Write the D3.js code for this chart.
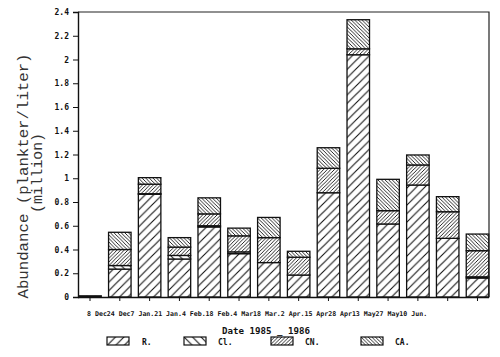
<!DOCTYPE html>
<html>
<head>
<meta charset="utf-8">
<script src="https://cdn.jsdelivr.net/npm/d3@7"></script>
<style>
  body { margin: 0; background: #fff; }
  svg { display: block; }
</style>
</head>
<body>
<svg width="500" height="357"></svg>
<script>
// sampling dates (tick labels, day first)
const dates = ["8 Dec", "24 Dec", "7 Jan.", "21 Jan.", "4 Feb.", "18 Feb.", "4 Mar",
  "18 Mar.", "2 Apr.", "15 Apr", "28 Apr", "13 May", "27 May", "10 Jun."];
// abundance in million plankter per liter, per group
const R  = [0.01, 0.235, 0.865, 0.32, 0.59, 0.365, 0.29, 0.185, 0.878, 2.04, 0.615, 0.943, 0.494, 0.16];
const Cl = [0, 0.03, 0.005, 0.03, 0.01, 0.015, 0, 0, 0, 0, 0, 0, 0, 0.01];
const CN = [0, 0.135, 0.08, 0.07, 0.10, 0.135, 0.21, 0.15, 0.206, 0.05, 0.112, 0.169, 0.224, 0.22];
const CA = [0, 0.145, 0.055, 0.08, 0.135, 0.065, 0.17, 0.05, 0.173, 0.245, 0.264, 0.084, 0.127, 0.14];
const keys = ["R", "Cl", "CN", "CA"];
const legendLabels = ["R.", "Cl.", "CN.", "CA."];
const yTicks = [0, 0.2, 0.4, 0.6, 0.8, 1, 1.2, 1.4, 1.6, 1.8, 2, 2.2, 2.4];

const rows = dates.map((d, i) => ({ date: d, R: R[i], Cl: Cl[i], CN: CN[i], CA: CA[i] }));
const series = d3.stack().keys(keys)(rows);

const svg = d3.select("svg");
const plotLeft = 78, plotRight = 489, plotTop = 12, plotBottom = 297;

const x = d3.scaleBand().domain(dates).range([75.1, 492.4]).paddingInner(0.245).paddingOuter(0.1225);
const y = d3.scaleLinear().domain([0, 2.4]).range([plotBottom, plotTop]);

// hatch patterns: "/" or "\" lines, spacing = tile size
const defs = svg.append("defs");
const hatch = [
  { id: "R", size: 8.5, dir: 1, w: 1.1 },
  { id: "Cl", size: 8.5, dir: -1, w: 1.1 },
  { id: "CN", size: 3.6, dir: 1, w: 0.9 },
  { id: "CA", size: 3.6, dir: -1, w: 0.9 }
];
hatch.forEach(h => {
  const s = h.size;
  const p = defs.append("pattern")
    .attr("id", "pat-" + h.id)
    .attr("patternUnits", "userSpaceOnUse")
    .attr("width", s).attr("height", s);
  p.append("rect").attr("width", s).attr("height", s).attr("fill", "#fff");
  const d = h.dir > 0
    ? `M0,${s} L${s},0 M-1,1 L1,-1 M${s - 1},${s + 1} L${s + 1},${s - 1}`
    : `M0,0 L${s},${s} M-1,${s - 1} L1,${s + 1} M${s - 1},-1 L${s + 1},1`;
  p.append("path").attr("d", d).attr("stroke", "#111").attr("stroke-width", h.w);
});

// bars
svg.append("g")
  .selectAll("g")
  .data(series)
  .join("g")
  .attr("fill", d => `url(#pat-${d.key})`)
  .selectAll("rect")
  .data(d => d.filter(v => v[1] - v[0] > 0))
  .join("rect")
  .attr("x", d => x(d.data.date))
  .attr("width", x.bandwidth())
  .attr("y", d => y(d[1]))
  .attr("height", d => y(d[0]) - y(d[1]))
  .attr("stroke", "#111")
  .attr("stroke-width", 1.3);

// frame
svg.append("path")
  .attr("d", `M${plotLeft},${plotTop} H${plotRight} V${plotBottom}`)
  .attr("fill", "none").attr("stroke", "#222").attr("stroke-width", 1.2);

// y axis
const yAxis = d3.axisLeft(y).tickValues(yTicks).tickSize(5).tickPadding(4)
  .tickFormat(d => String(+d.toFixed(1)));
svg.append("g")
  .attr("transform", `translate(${plotLeft},0)`)
  .call(yAxis)
  .call(g => g.select(".domain").attr("stroke", "#111").attr("stroke-width", 1.4))
  .call(g => g.selectAll(".tick line").attr("stroke", "#111"))
  .call(g => g.selectAll(".tick text")
    .attr("font-family", "DejaVu Sans Mono").attr("font-weight", "bold")
    .attr("font-size", 8).attr("fill", "#111"));

// x axis (ticks only; the date labels run together below, as in the original print)
svg.append("g")
  .attr("transform", `translate(0,${plotBottom})`)
  .call(d3.axisBottom(x).tickSize(4).tickFormat(""))
  .call(g => g.select(".domain").attr("d", `M${plotLeft},0.5H${plotRight}`).attr("stroke", "#111").attr("stroke-width", 1.6))
  .call(g => g.selectAll(".tick line").attr("stroke", "#111"));

const labelFont = 6.6;
const charW = 340 / dates.join("").length;
let cx = 87;
const labelPos = dates.map(d => { const p = cx; cx += d.length * charW; return p; });
svg.append("g")
  .attr("font-family", "DejaVu Sans Mono").attr("font-weight", "bold")
  .attr("font-size", labelFont).attr("fill", "#111")
  .selectAll("text")
  .data(dates)
  .join("text")
  .attr("x", (d, i) => labelPos[i]).attr("y", 316)
  .text(d => d);

// x title
svg.append("text")
  .attr("x", 222).attr("y", 334)
  .attr("font-family", "DejaVu Sans Mono").attr("font-weight", "bold")
  .attr("font-size", 8).attr("fill", "#111")
  .attr("textLength", 88).attr("lengthAdjust", "spacingAndGlyphs")
  .text("Date  1985 _ 1986");

// y title
const yl = svg.append("g")
  .attr("font-family", "Liberation Mono").attr("font-size", 14).attr("fill", "#333")
  .attr("text-anchor", "middle");
yl.append("text")
  .attr("transform", "translate(28,176) rotate(-90)")
  .attr("textLength", 245).attr("lengthAdjust", "spacingAndGlyphs")
  .text("Abundance (plankter/liter)");
yl.append("text")
  .attr("transform", "translate(42,173) rotate(-90)")
  .attr("textLength", 80).attr("lengthAdjust", "spacingAndGlyphs")
  .text("(million)");

// legend
const legendX = [107, 184, 271, 361];
const lg = svg.append("g")
  .selectAll("g")
  .data(keys)
  .join("g")
  .attr("transform", (d, i) => `translate(${legendX[i]},337)`);
lg.append("rect")
  .attr("width", 22).attr("height", 8)
  .attr("fill", d => `url(#pat-${d})`)
  .attr("stroke", "#111").attr("stroke-width", 1.2);
lg.append("text")
  .attr("x", (d, i) => i === 0 ? 35 : 34).attr("y", 8)
  .attr("font-family", "DejaVu Sans Mono").attr("font-weight", "bold")
  .attr("font-size", 8).attr("fill", "#111")
  .text((d, i) => legendLabels[i]);
</script>
</body>
</html>
